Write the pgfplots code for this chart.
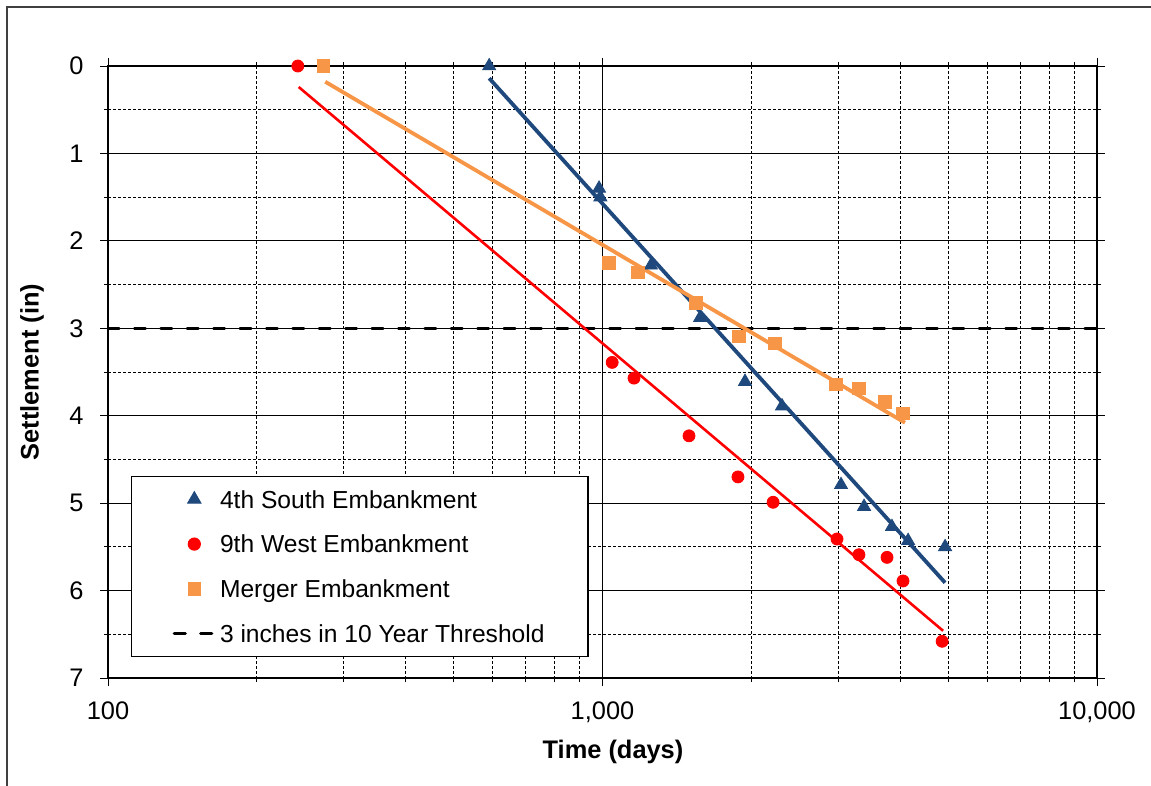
\documentclass[border=0pt]{standalone}
\usepackage{fontspec}
\setmainfont{Liberation Sans}
\usepackage{pgfplots}
\pgfplotsset{compat=1.18}

\definecolor{southblue}{RGB}{31,73,125}
\definecolor{mergerorange}{RGB}{247,150,70}
\definecolor{westred}{RGB}{255,0,0}

% legend sample for the marker-only series
\pgfplotsset{
  scatlegend/.style={legend image code/.code={%
    \draw[mark repeat=2,mark phase=2,##1] plot coordinates {(0pt,0pt)(10pt,0pt)(20pt,0pt)};}},
  linelegend/.style={legend image code/.code={%
    \draw[##1] (0pt,0pt) -- (20pt,0pt);}},
}

% measured settlement, time in days
\pgfplotstableread{
t     s
590   0
984   1.40
990   1.50
1253  2.28
1575  2.88
1942  3.61
2307  3.89
3036  4.79
3380  5.04
3849  5.27
4149  5.43
4929  5.50
}\southdata
\pgfplotstableread{
t     s
242   0
1046  3.39
1158  3.57
1496  4.23
1879  4.70
2213  4.99
2980  5.41
3301  5.59
3762  5.62
4052  5.89
4862  6.58
}\westdata
\pgfplotstableread{
t     s
273   0
1031  2.25
1180  2.36
1546  2.71
1888  3.09
2233  3.17
2966  3.64
3300  3.69
3726  3.84
4052  3.97
}\mergerdata

\begin{document}
\begin{tikzpicture}
\begin{scope}
\clip (0pt,0pt) rectangle (575.5pt,-393pt);
\draw[line width=1pt, black!75] (3.5pt,-420pt) -- (3.5pt,-3.5pt) -- (600pt,-3.5pt);
\end{scope}
\begin{axis}[
  at={(301.25pt,-186pt)}, anchor=center,
  scale only axis, width=494.5pt, height=306pt,
  xmode=log, xmin=100, xmax=10000,
  ymin=0, ymax=7, y dir=reverse,
  xtick={100,1000,10000}, xticklabels={100,{1,000},{10,000}},
  minor xtick={200,300,400,500,600,700,800,900,2000,3000,4000,5000,6000,7000,8000,9000},
  ytick={0,1,2,3,4,5,6,7},
  minor ytick={0.5,1.5,2.5,3.5,4.5,5.5,6.5},
  /pgf/number format/assume math mode=true,
  tick label style={font=\fontsize{12.7}{15}\selectfont},
  yticklabel style={xshift=-4.75pt},
  xticklabel style={yshift=-4.25pt},
  tick align=outside, major tick length=4pt, minor tick length=2pt,
  tick style={black, line width=0.5pt},
  grid=both,
  major grid style={black, line width=0.6pt},
  minor grid style={black, line width=0.45pt, dash pattern=on 1.5pt off 1pt},
  axis line style={black, line width=0.7pt},
  xlabel={\bfseries Time (days)},
  ylabel={\bfseries Settlement (in)},
  label style={font=\fontsize{12.7}{15}\selectfont},
  xlabel style={at={(axis description cs:0.5106,-0.1209)}, anchor=center},
  ylabel style={at={(axis description cs:-0.0768,0.5)}, anchor=center},
  legend cell align=left,
  legend style={at={(axis description cs:0.02326,0.3301)}, anchor=north west,
    draw=black, line width=0.6pt, fill=white,
    inner xsep=20.5pt, inner ysep=5pt, row sep=9.55pt,
    font=\fontsize{12.3}{14}\selectfont,
    nodes={inner sep=2pt, text height=0.88em, text depth=0pt}},
]
\addplot[only marks, mark=triangle*, mark size=3.75pt, color=southblue, scatlegend]
  table[x=t, y=s] {\southdata};
\addlegendentry{\makebox[161.5pt][l]{4th South Embankment}}
\addplot[only marks, mark=*, mark size=3pt, color=westred, scatlegend]
  table[x=t, y=s] {\westdata};
\addlegendentry{\makebox[161.5pt][l]{9th West Embankment}}
\addplot[only marks, mark=square*, mark size=3.1pt, color=mergerorange, scatlegend]
  table[x=t, y=s] {\mergerdata};
\addlegendentry{\makebox[161.5pt][l]{Merger Embankment}}
\addplot[black, line width=1.7pt, line cap=round, dash pattern=on 5.5pt off 7.7pt, linelegend]
  coordinates {(100,3) (10000,3)};
\addlegendentry{\makebox[161.5pt][l]{3 inches in 10 Year Threshold}}
% logarithmic trend lines
\addplot[forget plot, southblue, line width=1.9pt] coordinates {(590,0.14) (4929,5.91)};
\addplot[forget plot, westred, line width=1.3pt] coordinates {(243,0.24) (4883,6.46)};
\addplot[forget plot, mergerorange, line width=1.9pt] coordinates {(275,0.18) (4090,4.08)};
\end{axis}
\pgfresetboundingbox
\useasboundingbox (0pt,0pt) rectangle (575.5pt,-393pt);
\end{tikzpicture}
\end{document}
